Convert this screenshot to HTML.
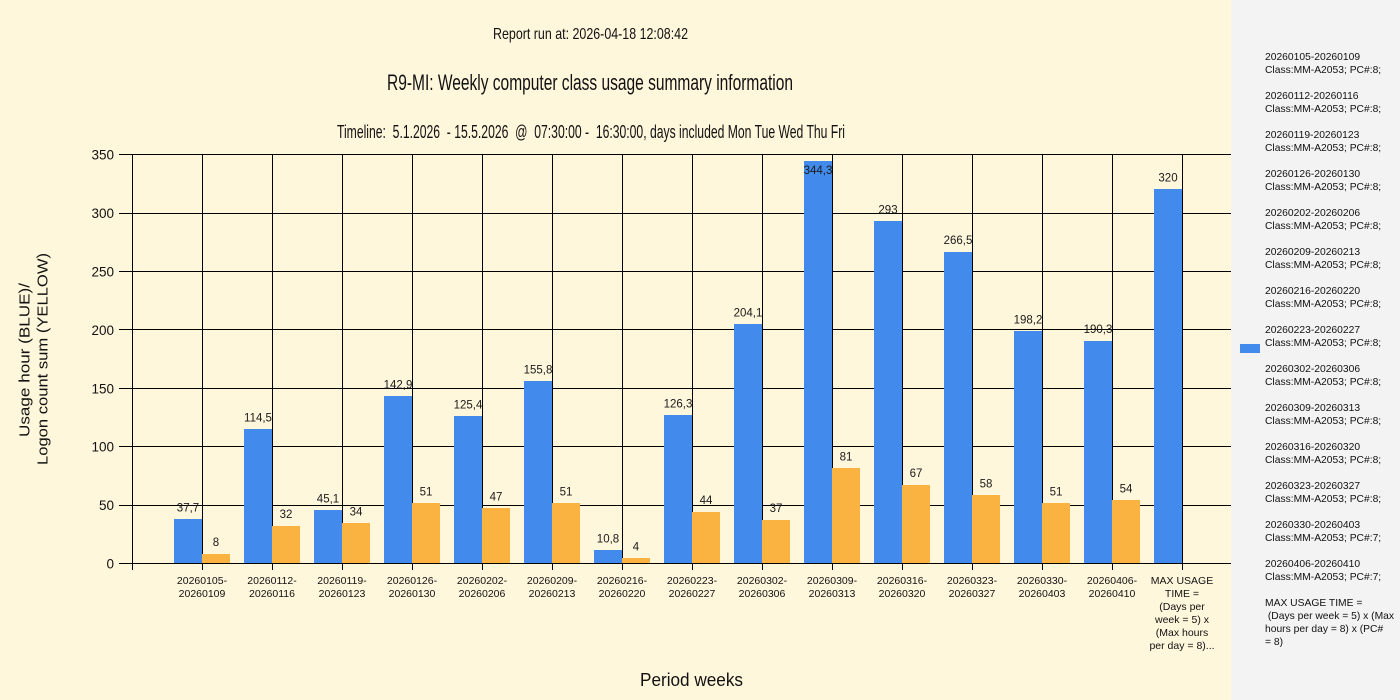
<!DOCTYPE html>
<html><head><meta charset="utf-8"><style>
html,body{margin:0;padding:0;background:#FFF7DC;}
svg{display:block;}
text{font-family:"Liberation Sans",Arial,sans-serif;fill:#111;}
.yl{font-size:13.5px;text-anchor:end;}
.xl{font-size:10.5px;text-anchor:middle;}
.vl{font-size:11.5px;text-anchor:middle;fill:#1a1a1a;}
.lg{font-size:10.3px;fill:#111;}
</style></head><body>
<svg width="1400" height="700" viewBox="0 0 1400 700" xmlns="http://www.w3.org/2000/svg">
<rect x="0" y="0" width="1400" height="700" fill="#FFF7DC"/>

<!-- titles -->
<text x="590.5" y="39" font-size="16" text-anchor="middle" textLength="195" lengthAdjust="spacingAndGlyphs">Report run at: 2026-04-18 12:08:42</text>
<text x="590" y="90" font-size="22" text-anchor="middle" textLength="406" lengthAdjust="spacingAndGlyphs">R9-MI: Weekly computer class usage summary information</text>
<text x="591" y="138" font-size="18" text-anchor="middle" textLength="508" lengthAdjust="spacingAndGlyphs" xml:space="preserve" style="white-space:pre">Timeline:  5.1.2026  - 15.5.2026  @  07:30:00 -  16:30:00, days included Mon Tue Wed Thu Fri</text>

<!-- y axis title -->
<text transform="translate(29.5,360) rotate(-90)" font-size="15" text-anchor="middle" textLength="154" lengthAdjust="spacingAndGlyphs">Usage hour (BLUE)/</text>
<text transform="translate(47.5,359) rotate(-90)" font-size="15" text-anchor="middle" textLength="212" lengthAdjust="spacingAndGlyphs">Logon count sum (YELLOW)</text>

<!-- x axis title -->
<text x="691.5" y="686" font-size="18" text-anchor="middle" textLength="103" lengthAdjust="spacingAndGlyphs">Period weeks</text>

<!-- gridlines -->
<g stroke="#000" stroke-width="1" shape-rendering="crispEdges">
<line x1="119" y1="154.5" x2="1231" y2="154.5"/>
<line x1="119" y1="213.5" x2="1231" y2="213.5"/>
<line x1="119" y1="271.5" x2="1231" y2="271.5"/>
<line x1="119" y1="329.5" x2="1231" y2="329.5"/>
<line x1="119" y1="388.5" x2="1231" y2="388.5"/>
<line x1="119" y1="446.5" x2="1231" y2="446.5"/>
<line x1="119" y1="505.5" x2="1231" y2="505.5"/>
<line x1="132.5" y1="154" x2="132.5" y2="570"/>
<line x1="202.5" y1="154" x2="202.5" y2="570"/>
<line x1="272.5" y1="154" x2="272.5" y2="570"/>
<line x1="342.5" y1="154" x2="342.5" y2="570"/>
<line x1="412.5" y1="154" x2="412.5" y2="570"/>
<line x1="482.5" y1="154" x2="482.5" y2="570"/>
<line x1="552.5" y1="154" x2="552.5" y2="570"/>
<line x1="622.5" y1="154" x2="622.5" y2="570"/>
<line x1="692.5" y1="154" x2="692.5" y2="570"/>
<line x1="762.5" y1="154" x2="762.5" y2="570"/>
<line x1="832.5" y1="154" x2="832.5" y2="570"/>
<line x1="902.5" y1="154" x2="902.5" y2="570"/>
<line x1="972.5" y1="154" x2="972.5" y2="570"/>
<line x1="1042.5" y1="154" x2="1042.5" y2="570"/>
<line x1="1112.5" y1="154" x2="1112.5" y2="570"/>
<line x1="1182.5" y1="154" x2="1182.5" y2="570"/>
</g>

<!-- bars blue -->
<g fill="#428BEC" shape-rendering="crispEdges">
<rect x="174" y="519" width="28" height="44"/>
<rect x="244" y="429" width="28" height="134"/>
<rect x="314" y="510" width="28" height="53"/>
<rect x="384" y="396" width="28" height="167"/>
<rect x="454" y="416" width="28" height="147"/>
<rect x="524" y="381" width="28" height="182"/>
<rect x="594" y="550" width="28" height="13"/>
<rect x="664" y="415" width="28" height="148"/>
<rect x="734" y="324" width="28" height="239"/>
<rect x="804" y="161" width="28" height="402"/>
<rect x="874" y="221" width="28" height="342"/>
<rect x="944" y="252" width="28" height="311"/>
<rect x="1014" y="331" width="28" height="232"/>
<rect x="1084" y="341" width="28" height="222"/>
<rect x="1154" y="189" width="28" height="374"/>
</g>
<!-- bars orange -->
<g fill="#FAB240" shape-rendering="crispEdges">
<rect x="202" y="554" width="28" height="9"/>
<rect x="272" y="526" width="28" height="37"/>
<rect x="342" y="523" width="28" height="40"/>
<rect x="412" y="503" width="28" height="60"/>
<rect x="482" y="508" width="28" height="55"/>
<rect x="552" y="503" width="28" height="60"/>
<rect x="622" y="558" width="28" height="5"/>
<rect x="692" y="512" width="28" height="51"/>
<rect x="762" y="520" width="28" height="43"/>
<rect x="832" y="468" width="28" height="95"/>
<rect x="902" y="485" width="28" height="78"/>
<rect x="972" y="495" width="28" height="68"/>
<rect x="1042" y="503" width="28" height="60"/>
<rect x="1112" y="500" width="28" height="63"/>
</g>

<!-- zero line -->
<line x1="119" y1="563.5" x2="1231" y2="563.5" stroke="#000" stroke-width="1" shape-rendering="crispEdges"/>

<!-- y labels -->
<text class="yl" x="114" y="159.5">350</text>
<text class="yl" x="114" y="218">300</text>
<text class="yl" x="114" y="276.5">250</text>
<text class="yl" x="114" y="335">200</text>
<text class="yl" x="114" y="393.5">150</text>
<text class="yl" x="114" y="451.5">100</text>
<text class="yl" x="114" y="510">50</text>
<text class="yl" x="114" y="568.5">0</text>

<!-- value labels blue -->
<text class="vl" x="188" y="511.5">37,7</text>
<text class="vl" x="258" y="421.5">114,5</text>
<text class="vl" x="328" y="502.5">45,1</text>
<text class="vl" x="398" y="388.5">142,9</text>
<text class="vl" x="468" y="408.5">125,4</text>
<text class="vl" x="538" y="373.5">155,8</text>
<text class="vl" x="608" y="542.5">10,8</text>
<text class="vl" x="678" y="407.5">126,3</text>
<text class="vl" x="748" y="316.5">204,1</text>
<text class="vl" x="818" y="174">344,3</text>
<text class="vl" x="888" y="213.5">293</text>
<text class="vl" x="958" y="244">266,5</text>
<text class="vl" x="1028" y="323.5">198,2</text>
<text class="vl" x="1098" y="333">190,3</text>
<text class="vl" x="1168" y="181.5">320</text>
<!-- value labels orange -->
<text class="vl" x="216" y="546">8</text>
<text class="vl" x="286" y="518">32</text>
<text class="vl" x="356" y="515.5">34</text>
<text class="vl" x="426" y="495.5">51</text>
<text class="vl" x="496" y="500.5">47</text>
<text class="vl" x="566" y="495.5">51</text>
<text class="vl" x="636" y="550.5">4</text>
<text class="vl" x="706" y="504">44</text>
<text class="vl" x="776" y="512">37</text>
<text class="vl" x="846" y="460.5">81</text>
<text class="vl" x="916" y="477">67</text>
<text class="vl" x="986" y="487.5">58</text>
<text class="vl" x="1056" y="495.5">51</text>
<text class="vl" x="1126" y="492.5">54</text>

<!-- x labels -->
<g class="xl">
<text class="xl" x="202" y="584">20260105-</text><text class="xl" x="202" y="597">20260109</text>
<text class="xl" x="272" y="584">20260112-</text><text class="xl" x="272" y="597">20260116</text>
<text class="xl" x="342" y="584">20260119-</text><text class="xl" x="342" y="597">20260123</text>
<text class="xl" x="412" y="584">20260126-</text><text class="xl" x="412" y="597">20260130</text>
<text class="xl" x="482" y="584">20260202-</text><text class="xl" x="482" y="597">20260206</text>
<text class="xl" x="552" y="584">20260209-</text><text class="xl" x="552" y="597">20260213</text>
<text class="xl" x="622" y="584">20260216-</text><text class="xl" x="622" y="597">20260220</text>
<text class="xl" x="692" y="584">20260223-</text><text class="xl" x="692" y="597">20260227</text>
<text class="xl" x="762" y="584">20260302-</text><text class="xl" x="762" y="597">20260306</text>
<text class="xl" x="832" y="584">20260309-</text><text class="xl" x="832" y="597">20260313</text>
<text class="xl" x="902" y="584">20260316-</text><text class="xl" x="902" y="597">20260320</text>
<text class="xl" x="972" y="584">20260323-</text><text class="xl" x="972" y="597">20260327</text>
<text class="xl" x="1042" y="584">20260330-</text><text class="xl" x="1042" y="597">20260403</text>
<text class="xl" x="1112" y="584">20260406-</text><text class="xl" x="1112" y="597">20260410</text>
<text class="xl" x="1182" y="584">MAX USAGE</text>
<text class="xl" x="1182" y="597">TIME =</text>
<text class="xl" x="1182" y="610">(Days per</text>
<text class="xl" x="1182" y="623">week = 5) x</text>
<text class="xl" x="1182" y="636">(Max hours</text>
<text class="xl" x="1182" y="649">per day = 8)...</text>
</g>

<!-- legend panel -->
<rect x="1231" y="0" width="169" height="700" fill="#F3F3F3"/>
<rect x="1240" y="344" width="20" height="9" fill="#428BEC"/>
<g class="lg">
<text class="lg" x="1265" y="60">20260105-20260109</text><text class="lg" x="1265" y="73">Class:MM-A2053; PC#:8;</text>
<text class="lg" x="1265" y="99">20260112-20260116</text><text class="lg" x="1265" y="112">Class:MM-A2053; PC#:8;</text>
<text class="lg" x="1265" y="138">20260119-20260123</text><text class="lg" x="1265" y="151">Class:MM-A2053; PC#:8;</text>
<text class="lg" x="1265" y="177">20260126-20260130</text><text class="lg" x="1265" y="190">Class:MM-A2053; PC#:8;</text>
<text class="lg" x="1265" y="216">20260202-20260206</text><text class="lg" x="1265" y="229">Class:MM-A2053; PC#:8;</text>
<text class="lg" x="1265" y="255">20260209-20260213</text><text class="lg" x="1265" y="268">Class:MM-A2053; PC#:8;</text>
<text class="lg" x="1265" y="294">20260216-20260220</text><text class="lg" x="1265" y="307">Class:MM-A2053; PC#:8;</text>
<text class="lg" x="1265" y="333">20260223-20260227</text><text class="lg" x="1265" y="346">Class:MM-A2053; PC#:8;</text>
<text class="lg" x="1265" y="372">20260302-20260306</text><text class="lg" x="1265" y="385">Class:MM-A2053; PC#:8;</text>
<text class="lg" x="1265" y="411">20260309-20260313</text><text class="lg" x="1265" y="424">Class:MM-A2053; PC#:8;</text>
<text class="lg" x="1265" y="450">20260316-20260320</text><text class="lg" x="1265" y="463">Class:MM-A2053; PC#:8;</text>
<text class="lg" x="1265" y="489">20260323-20260327</text><text class="lg" x="1265" y="502">Class:MM-A2053; PC#:8;</text>
<text class="lg" x="1265" y="528">20260330-20260403</text><text class="lg" x="1265" y="541">Class:MM-A2053; PC#:7;</text>
<text class="lg" x="1265" y="567">20260406-20260410</text><text class="lg" x="1265" y="580">Class:MM-A2053; PC#:7;</text>
<text class="lg" x="1265" y="606">MAX USAGE TIME =</text>
<text class="lg" x="1265" y="619" xml:space="preserve" style="white-space:pre"> (Days per week = 5) x (Max</text>
<text class="lg" x="1265" y="632">hours per day = 8) x (PC#</text>
<text class="lg" x="1265" y="645">= 8)</text>
</g>
</svg>
</body></html>
